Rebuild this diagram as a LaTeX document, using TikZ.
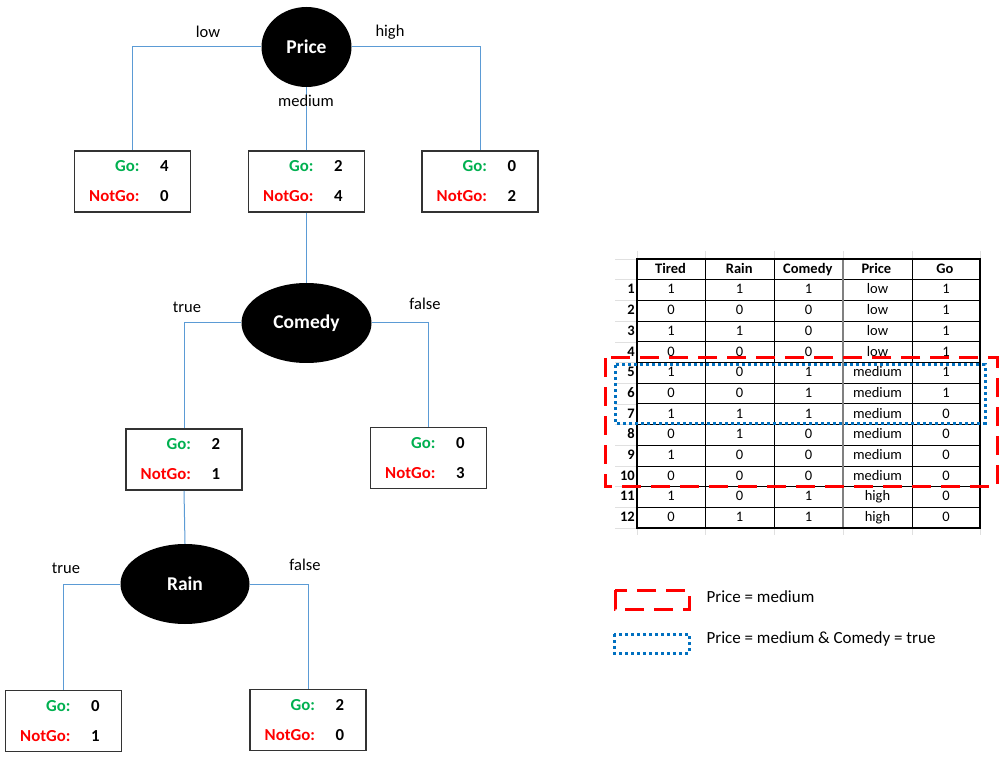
\documentclass[tikz,border=0pt]{standalone}
\usepackage{fontspec}
\setmainfont{Carlito}
\usetikzlibrary{shapes.geometric}

\definecolor{gogreen}{RGB}{0,176,80}
\definecolor{lineblue}{RGB}{91,155,213}
\definecolor{dotblue}{RGB}{0,112,192}

\newcommand{\gonogo}[2]{%
  \makebox[64pt][r]{\textcolor{gogreen}{Go:}}\makebox[50pt]{#1}\\
  \makebox[64pt][r]{\textcolor{red}{NotGo:}}\makebox[50pt]{#2}}

\begin{document}
\begin{tikzpicture}[x=1pt, y=-1pt,
    split/.style={ellipse, fill=black, text=white, inner sep=0pt,
      minimum height=80pt, font=\fontsize{19.5}{22}\selectfont\bfseries},
    countbox/.style={draw=black!80, line width=1.6pt, fill=white,
      minimum width=116pt, minimum height=61pt, inner sep=0pt, align=left,
      font=\fontsize{16.8}{30}\selectfont\bfseries},
    branch/.style={draw=lineblue, line width=1pt},
    edgelbl/.style={font=\fontsize{16.5}{18}\selectfont},
    cell/.style={font=\fontsize{14.5}{16}\selectfont, inner sep=0pt,
      text height=10pt, text depth=3pt},
    keytxt/.style={anchor=west, font=\fontsize{17}{19}\selectfont},
    pricemed/.style={draw=red, line width=3pt, dash pattern=on 19pt off 10pt},
    comtrue/.style={draw=dotblue, line width=3pt, dash pattern=on 3pt off 3pt}]
  \useasboundingbox[fill=white] (0,0) rectangle (1007,759);

  % tree
  \node[split, minimum width=90pt] (price) at (306.5,47) {Price};
  \node[countbox] (blow) at (132.5,181.5) {\gonogo{4}{0}};
  \node[countbox] (bmed) at (306.5,181.5) {\gonogo{2}{4}};
  \node[countbox] (bhigh) at (480,181.5) {\gonogo{0}{2}};

  \node[split, minimum width=130pt] (comedy) at (306.5,323) {Comedy};
  \node[countbox] (bctrue) at (184,459.5) {\gonogo{2}{1}};
  \node[countbox] (bcfalse) at (428.5,458) {\gonogo{0}{3}};

  \node[split, minimum width=129pt] (rain) at (185,584) {Rain};
  \node[countbox] (brtrue) at (63.5,721) {\gonogo{0}{1}};
  \node[countbox] (brfalse) at (308,720) {\gonogo{2}{0}};

  \draw[branch] (price.west) -| (blow.north);
  \draw[branch] (price.east) -| (bhigh.north);
  \draw[branch] (price.south) -- (bmed.north);
  \draw[branch] (bmed.south) -- (comedy.north);
  \draw[branch] (comedy.west) -| (bctrue.north);
  \draw[branch] (comedy.east) -| (bcfalse.north);
  \draw[branch] (bctrue.south) -- (rain.north);
  \draw[branch] (rain.west) -| (brtrue.north);
  \draw[branch] (rain.east) -| (brfalse.north);

  \node[edgelbl] (lbllow) at (208,32) {low};
  \node[edgelbl] (lblhigh) at (390,32) {high};
  \node[edgelbl] (lblmed) at (306,101) {medium};
  \node[edgelbl] (lblctrue) at (187,307) {true};
  \node[edgelbl] (lblcfalse) at (425,304) {false};
  \node[edgelbl] (lblrtrue) at (66,568) {true};
  \node[edgelbl] (lblrfalse) at (305,565) {false};

  % table
  \foreach \k in {0,...,13}
    \draw[black!12] (615,259+\k*20.69) -- (637,259+\k*20.69);
  \foreach \x in {637,705,774,843,912,980} {
    \draw[black!12] (\x,251) -- (\x,259);
    \draw[black!12] (\x,528) -- (\x,535);
  }
  \foreach \k in {1,...,12}
    \draw[line width=0.8pt] (637,259+\k*20.69) -- (980,259+\k*20.69);
  \foreach \x in {705,774,912}
    \draw[line width=0.8pt] (\x,259) -- (\x,528);
  \draw[black!50, line width=1.5pt] (843,259) -- (843,528);
  \draw[line width=2pt] (637,259) rectangle (980,528);

  \foreach \h [count=\c] in {Tired,Rain,Comedy,Price,Go}
    \node[cell, font=\fontsize{14.5}{16}\selectfont\bfseries] (head\c) at (602+\c*68.6,269.8) {\h};
  \foreach \r/\t/\ra/\co/\p/\g in {1/1/1/1/low/1, 2/0/0/0/low/1, 3/1/1/0/low/1,
      4/0/0/0/low/1, 5/1/0/1/medium/1, 6/0/0/1/medium/1, 7/1/1/1/medium/0,
      8/0/1/0/medium/0, 9/1/0/0/medium/0, 10/0/0/0/medium/0, 11/1/0/1/high/0,
      12/0/1/1/high/0} {
    \node[cell, font=\fontsize{14.5}{16}\selectfont\bfseries, anchor=east] (num\r) at (635,259+\r*20.69+10.8) {\r};
    \node[cell] (tired\r) at (671,259+\r*20.69+10.8) {\t};
    \node[cell] (rain\r) at (739.5,259+\r*20.69+10.8) {\ra};
    \node[cell] (comedy\r) at (808.5,259+\r*20.69+10.8) {\co};
    \node[cell] (price\r) at (877.5,259+\r*20.69+10.8) {\p};
    \node[cell] (go\r) at (946,259+\r*20.69+10.8) {\g};
  }

  % highlights
  \draw[pricemed] (605,358) rectangle (997,486);
  \draw[comtrue] (615,365) rectangle (985,423);

  % legend
  \draw[pricemed] (615,590) rectangle (689,609);
  \node[keytxt] (keymed) at (703,597) {Price = medium};
  \draw[comtrue] (614,634) rectangle (689,653);
  \node[keytxt] (keycom) at (703,639) {Price = medium \& Comedy = true};
\end{tikzpicture}
\end{document}
